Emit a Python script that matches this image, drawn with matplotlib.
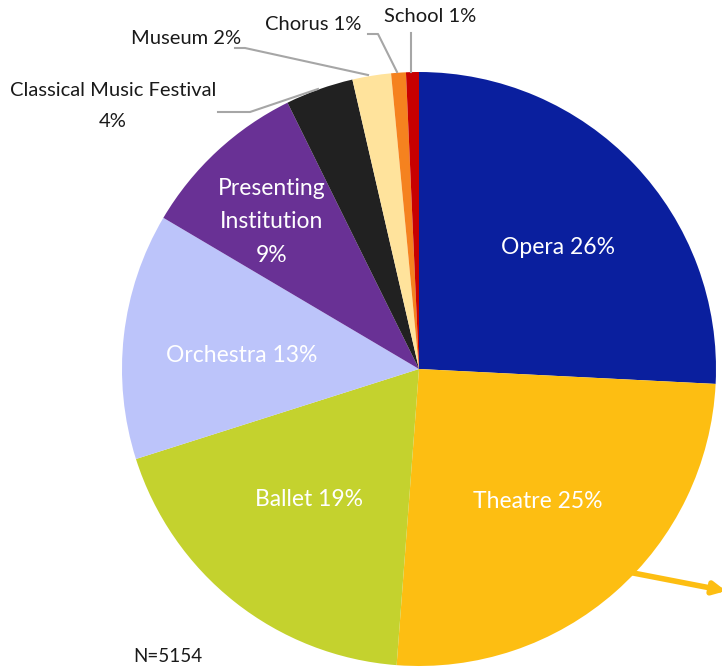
import matplotlib
matplotlib.use("Agg")
import matplotlib.pyplot as plt

categories = ["Opera", "Theatre", "Ballet", "Orchestra", "Presenting Institution",
              "Classical Music Festival", "Museum", "Chorus", "School"]
shares = [25.8, 25.4, 18.9, 13.4, 9.2, 3.7, 2.1, 0.8, 0.7]
colors = ["#0A1F9E", "#FDBE12", "#C4D22E", "#BCC4FA", "#693195",
          "#212121", "#FFE39C", "#F5821F", "#C80000"]
n_label = "N=5154"

W, H = 722, 671
fig = plt.figure(figsize=(W / 100, H / 100), dpi=100)
ax = fig.add_axes([0, 0, 1, 1])

cx, cy, r = 419, H - 369, 297
ax.pie(shares, colors=colors, startangle=90, counterclock=False,
       center=(cx, cy), radius=r, frame=True,
       wedgeprops=dict(linewidth=0))
ax.set_xlim(0, W)
ax.set_ylim(0, H)
ax.set_aspect("equal")
ax.axis("off")

font = "Lato"
fw = "normal"
def y(p):
    return H - p

def pct(v):
    return f"{round(v)}%"

# inside labels
inside = {
    0: (558, 247, f"{categories[0]} {pct(shares[0])}"),
    1: (538, 502, f"{categories[1]} {pct(shares[1])}"),
    2: (309, 499, f"{categories[2]} {pct(shares[2])}"),
    3: (242, 355, f"{categories[3]} {pct(shares[3])}"),
    4: (272, 222, "Presenting\nInstitution\n" + pct(shares[4])),
}
for i, (px, py, txt) in inside.items():
    ax.text(px, y(py), txt, ha="center", va="center", color="white",
            fontsize=16.5, family=font, fontweight=fw, linespacing=1.75)

# outside labels with leader lines
lc = "#A6A6A6"
tc = "#1a1a1a"
fs = 14.5
ax.text(113, y(106), f"{categories[5]}\n{pct(shares[5])}", ha="center", va="center",
        fontsize=fs, family=font, fontweight=fw, color=tc, linespacing=1.95)
ax.plot([218, 250, 318], [y(112), y(112), y(89)], color=lc, lw=1.5)

ax.text(186, y(38), f"{categories[6]} {pct(shares[6])}", ha="center", va="center",
        fontsize=fs, family=font, fontweight=fw, color=tc)
ax.plot([235, 245, 368], [y(48), y(48), y(75)], color=lc, lw=1.5)

ax.text(313, y(25), f"{categories[7]} {pct(shares[7])}", ha="center", va="center",
        fontsize=fs, family=font, fontweight=fw, color=tc)
ax.plot([368, 378, 397], [y(34), y(34), y(72)], color=lc, lw=1.5)

ax.text(430, y(17), f"{categories[8]} {pct(shares[8])}", ha="center", va="center",
        fontsize=fs, family=font, fontweight=fw, color=tc)
ax.plot([411, 411], [y(33), y(72)], color=lc, lw=1.5)

# arrow
ax.annotate("", xy=(726, y(591)), xytext=(628, y(572)),
            arrowprops=dict(arrowstyle="-|>", color="#FDBE12", lw=4,
                            mutation_scale=18, shrinkA=0, shrinkB=0),
            annotation_clip=False)

ax.text(168, y(656), n_label, ha="center", va="center", fontsize=13.5,
        family=font, fontweight=fw, color=tc)

fig.savefig("out.png", dpi=100)
